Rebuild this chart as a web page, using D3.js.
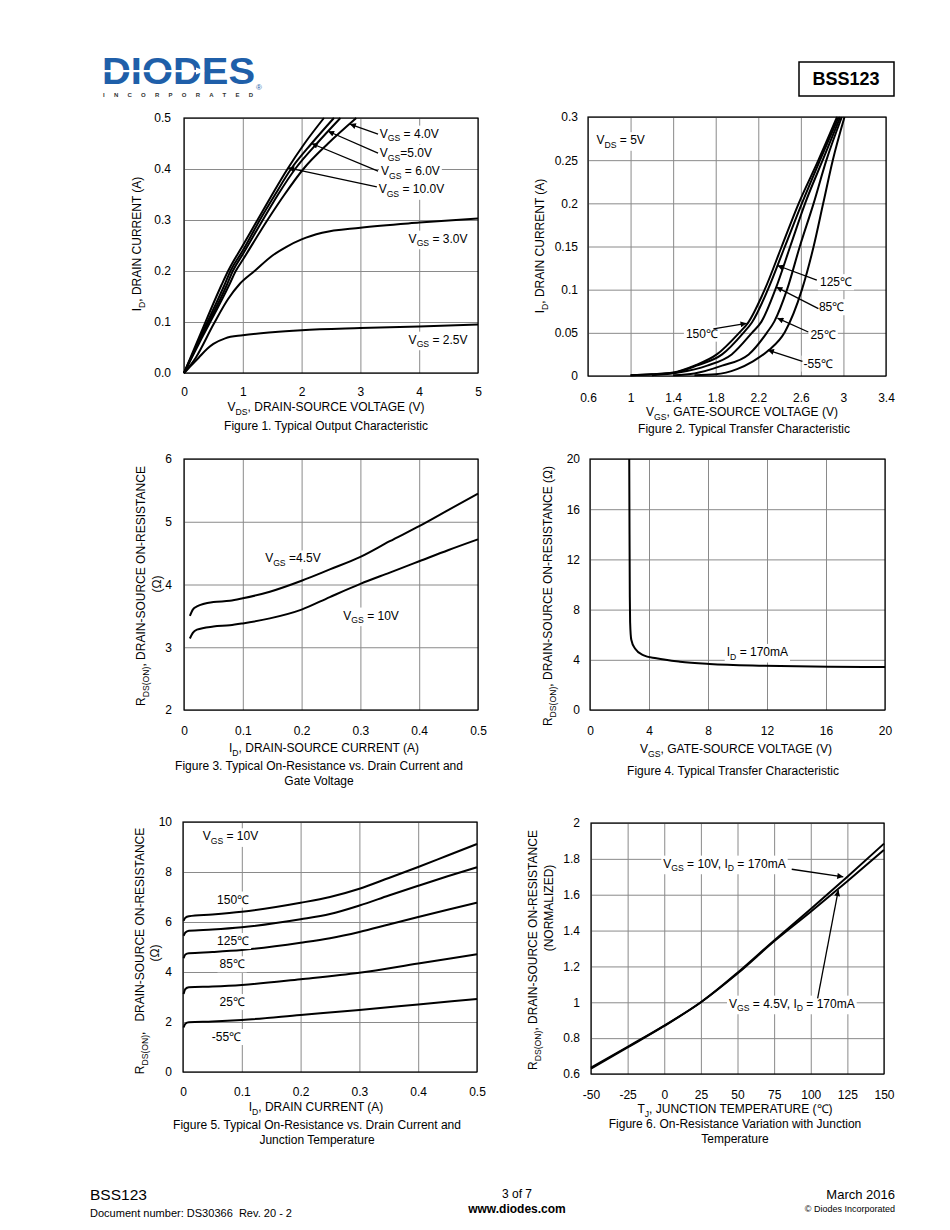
<!DOCTYPE html>
<html>
<head>
<meta charset="utf-8">
<script src="https://cdn.jsdelivr.net/npm/d3@7"></script>
<style>
  body { margin: 0; background: #fff; }
  svg { display: block; font-family: "Liberation Sans", Arial, Helvetica, sans-serif; }
</style>
</head>
<body>
<script>
// ---- Figure 1: output characteristic, [VDS, ID] ----
var f1Vgs10 = [[0,0],[0.1,0.027],[0.3,0.082],[0.64,0.173],[0.75,0.2],[1,0.25],[1.25,0.3],[1.5,0.35],[1.76,0.4],[2.05,0.45],[2.38,0.5]];
var f1Vgs6  = [[0,0],[0.1,0.025],[0.3,0.076],[0.69,0.173],[0.79,0.2],[1,0.24],[1.29,0.3],[1.55,0.35],[1.82,0.4],[2.17,0.45],[2.55,0.5]];
var f1Vgs5  = [[0,0],[0.1,0.024],[0.3,0.072],[0.73,0.173],[0.83,0.2],[1,0.233],[1.34,0.3],[1.6,0.35],[1.89,0.4],[2.26,0.45],[2.66,0.5]];
var f1Vgs4  = [[0,0],[0.1,0.023],[0.3,0.068],[0.77,0.173],[0.88,0.2],[1,0.222],[1.42,0.3],[1.71,0.35],[2.03,0.4],[2.45,0.45],[2.93,0.5]];
var f1Vgs3  = [[0,0],[0.2,0.03],[0.5,0.095],[0.75,0.145],[0.95,0.175],[1.2,0.2],[1.5,0.23],[1.75,0.248],[2,0.262],[2.35,0.275],[3,0.285],[4,0.295],[5,0.303]];
var f1Vgs25 = [[0,0],[0.1,0.012],[0.25,0.03],[0.4,0.048],[0.5,0.057],[0.7,0.068],[1,0.074],[1.5,0.08],[2,0.084],[3,0.088],[4,0.091],[5,0.095]];
var f1XTicks = [0, 1, 2, 3, 4, 5];
var f1YTicks = [0, 0.1, 0.2, 0.3, 0.4, 0.5];
var f1Notes = [
  { text: "V_{GS} = 4.0V",  at: [3.33, 0.470], from: [3.30, 0.4686], to: [2.82, 0.488] },
  { text: "V_{GS}=5.0V",    at: [3.33, 0.432], from: [3.30, 0.431],  to: [2.45, 0.474] },
  { text: "V_{GS} = 6.0V",  at: [3.35, 0.396], from: [3.30, 0.396],  to: [2.17, 0.45] },
  { text: "V_{GS} = 10.0V", at: [3.31, 0.361], from: [3.28, 0.365],  to: [1.77, 0.402] },
  { text: "V_{GS} = 3.0V",  at: [3.82, 0.264] },
  { text: "V_{GS} = 2.5V",  at: [3.82, 0.066] }
];

// ---- Figure 2: transfer characteristic, [VGS, ID] ----
var f2T150 = [[1,0.001],[1.2,0.002],[1.4,0.004],[1.6,0.012],[1.81,0.025],[2.02,0.05],[2.1,0.061],[2.26,0.1],[2.42,0.15],[2.58,0.2],[2.765,0.25],[2.94,0.3]];
var f2T125 = [[1,0.001],[1.2,0.002],[1.4,0.0035],[1.62,0.012],[1.86,0.025],[2.06,0.05],[2.14,0.062],[2.29,0.1],[2.45,0.15],[2.61,0.2],[2.78,0.25],[2.955,0.3]];
var f2T85  = [[1.2,0.001],[1.45,0.004],[1.72,0.012],[1.95,0.025],[2.14,0.05],[2.23,0.063],[2.36,0.1],[2.5,0.15],[2.64,0.2],[2.805,0.25],[2.97,0.3]];
var f2T25  = [[1.4,0.001],[1.6,0.003],[1.86,0.012],[2.11,0.025],[2.28,0.05],[2.35,0.063],[2.47,0.1],[2.59,0.15],[2.72,0.2],[2.84,0.25],[2.985,0.3]];
var f2Tm55 = [[1.6,0.001],[1.8,0.002],[2,0.008],[2.15,0.017],[2.3,0.03],[2.45,0.051],[2.61,0.1],[2.72,0.15],[2.81,0.2],[2.9,0.25],[3.01,0.3]];
var f2XTicks = [0.6, 1, 1.4, 1.8, 2.2, 2.6, 3, 3.4];
var f2YTicks = [0, 0.05, 0.1, 0.15, 0.2, 0.25, 0.3];
var f2Notes = [
  { text: "V_{DS} = 5V", at: [0.68, 0.2735] },
  { text: "125\u2103", at: [2.78, 0.109],  from: [2.75, 0.111],  to: [2.38, 0.128] },
  { text: "85\u2103",  at: [2.77, 0.080],  from: [2.765, 0.078], to: [2.37, 0.103] },
  { text: "25\u2103",  at: [2.69, 0.048],  from: [2.67, 0.051],  to: [2.38, 0.067] },
  { text: "-55\u2103", at: [2.625, 0.0147], from: [2.615, 0.0170], to: [2.29, 0.030] },
  { text: "150\u2103", at: [1.52, 0.0494], from: [1.778, 0.0545], to: [2.09, 0.061] }
];

// ---- Figure 3: RDS(on) vs ID, [ID, R] ----
var f3Vgs45 = [[0.01,3.5],[0.015,3.6],[0.022,3.65],[0.05,3.72],[0.078,3.74],[0.1,3.78],[0.146,3.885],[0.2,4.06],[0.248,4.24],[0.3,4.44],[0.35,4.69],[0.4,4.93],[0.45,5.19],[0.5,5.45]];
var f3Vgs10 = [[0.01,3.14],[0.015,3.23],[0.022,3.28],[0.05,3.33],[0.078,3.35],[0.1,3.38],[0.146,3.46],[0.2,3.6],[0.248,3.8],[0.3,4.01],[0.35,4.19],[0.4,4.37],[0.45,4.55],[0.5,4.72]];
var f3XTicks = [0, 0.1, 0.2, 0.3, 0.4, 0.5];
var f3YTicks = [2, 3, 4, 5, 6];
var f3Notes = [
  { text: "V_{GS} =4.5V", at: [0.138, 4.42] },
  { text: "V_{GS} = 10V", at: [0.271, 3.51] }
];

// ---- Figure 4: RDS(on) vs VGS, [VGS, R] ----
var f4Id170 = [[2.66,20],[2.68,14],[2.7,9],[2.72,7],[2.8,5.6],[3.05,4.9],[3.6,4.38],[4.5,4.12],[6.1,3.85],[8.1,3.67],[11.8,3.53],[16.3,3.45],[20,3.42]];
var f4XTicks = [0, 4, 8, 12, 16, 20];
var f4YTicks = [0, 4, 8, 12, 16, 20];
var f4Notes = [{ text: "I_{D} = 170mA", at: [9.27, 4.65] }];

// ---- Figure 5: RDS(on) vs ID and temperature, [ID, R] ----
var f5T150 = [[0.001,6.05],[0.004,6.17],[0.01,6.23],[0.05,6.3],[0.1,6.41],[0.2,6.77],[0.25,7.0],[0.3,7.33],[0.35,7.76],[0.4,8.2],[0.45,8.66],[0.5,9.12]];
var f5T125 = [[0.001,5.45],[0.004,5.58],[0.01,5.65],[0.05,5.7],[0.1,5.79],[0.2,6.11],[0.25,6.32],[0.3,6.66],[0.35,7.06],[0.4,7.45],[0.45,7.83],[0.5,8.19]];
var f5T85  = [[0.001,4.55],[0.004,4.7],[0.01,4.75],[0.05,4.8],[0.1,4.88],[0.2,5.17],[0.25,5.35],[0.3,5.6],[0.35,5.9],[0.4,6.2],[0.45,6.49],[0.5,6.77]];
var f5T25  = [[0.001,3.12],[0.004,3.32],[0.01,3.39],[0.05,3.42],[0.1,3.48],[0.2,3.71],[0.3,3.97],[0.4,4.34],[0.5,4.71]];
var f5Tm55 = [[0.001,1.78],[0.004,1.93],[0.01,1.99],[0.05,2.02],[0.1,2.08],[0.2,2.28],[0.3,2.48],[0.4,2.7],[0.5,2.92]];
var f5XTicks = [0, 0.1, 0.2, 0.3, 0.4, 0.5];
var f5YTicks = [0, 2, 4, 6, 8, 10];
var f5Notes = [
  { text: "V_{GS} = 10V", at: [0.0335, 9.44] },
  { text: "150\u2103", at: [0.058, 6.91] },
  { text: "125\u2103", at: [0.058, 5.25] },
  { text: "85\u2103",  at: [0.062, 4.32] },
  { text: "25\u2103",  at: [0.062, 2.81] },
  { text: "-55\u2103", at: [0.049, 1.41] }
];

// ---- Figure 6: normalized RDS(on) vs TJ ----
var f6Temp   = [-50, -25, 0, 25, 50, 75, 100, 125, 150];
var f6Vgs10  = [0.635, 0.752, 0.87, 1.0, 1.165, 1.345, 1.52, 1.70, 1.885];
var f6Vgs45  = [0.63, 0.748, 0.868, 1.0, 1.16, 1.34, 1.505, 1.675, 1.85];
var f6XTicks = [-50, -25, 0, 25, 50, 75, 100, 125, 150];
var f6YTicks = [0.6, 0.8, 1, 1.2, 1.4, 1.6, 1.8, 2];
var f6Notes = [
  { text: "V_{GS} = 10V, I_{D} = 170mA",  at: [-0.65, 1.775], from: [87, 1.742],   to: [122.2, 1.70] },
  { text: "V_{GS} = 4.5V, I_{D} = 170mA", at: [44.2, 0.994],  from: [104.7, 1.022], to: [118.8, 1.626] }
];

var svg = d3.select('body').append('svg')
  .attr('width', 950)
  .attr('height', 1230);

svg.append('defs').append('marker')
  .attr('id', 'ah')
  .attr('viewBox', '0 0 10 10')
  .attr('refX', 10).attr('refY', 5)
  .attr('markerWidth', 8).attr('markerHeight', 6)
  .attr('markerUnits', 'userSpaceOnUse')
  .attr('orient', 'auto')
  .append('path').attr('d', 'M0,0 L10,5 L0,10 Z').attr('fill', '#000');

// text with "_{sub}" parts turned into subscripts
function richText(parent, str, x, y, size, anchor) {
  var t = parent.append('text')
    .attr('x', x).attr('y', y)
    .attr('font-size', size)
    .attr('text-anchor', anchor || 'start')
    .style('white-space', 'pre');
  var parts = str.split(/(_\{[^}]*\})/).filter(function (s) { return s.length; });
  var shifted = false;
  parts.forEach(function (p) {
    if (p.indexOf('_{') === 0) {
      t.append('tspan').attr('font-size', size * 0.72).attr('dy', size * 0.3).text(p.slice(2, -1));
      shifted = true;
    } else {
      var s = t.append('tspan').text(p);
      if (shifted) { s.attr('dy', -size * 0.3); shifted = false; }
    }
  });
  return t;
}

function drawChart(c) {
  var g = svg.append('g');
  var x0 = c.box[0], y0 = c.box[1], x1 = c.box[2], y1 = c.box[3];
  var x = d3.scaleLinear().domain(c.xDomain).range([x0, x1]);
  var y = d3.scaleLinear().domain(c.yDomain).range([y1, y0]);

  // grid lines + tick labels
  var gx = g.append('g').attr('transform', 'translate(0,' + y1 + ')')
    .call(d3.axisBottom(x).tickValues(c.xTicks).tickFormat(c.xFmt || String)
      .tickSize(-(y1 - y0)).tickPadding(c.xPad));
  var gy = g.append('g').attr('transform', 'translate(' + x0 + ',0)')
    .call(d3.axisLeft(y).tickValues(c.yTicks).tickFormat(c.yFmt || String)
      .tickSize(-(x1 - x0)).tickPadding(c.yPad));
  [gx, gy].forEach(function (a) {
    a.attr('font-family', null).attr('font-size', 12);
    a.select('.domain').remove();
    a.selectAll('.tick line').attr('stroke', '#8a8a8a');
    a.selectAll('.tick text').attr('fill', '#000');
  });

  var line = d3.line()
    .x(function (d) { return x(d[0]); })
    .y(function (d) { return y(d[1]); })
    .curve(d3.curveMonotoneX);

  g.append('g').selectAll('path')
    .data(c.series)
    .join('path')
    .attr('d', line)
    .attr('fill', 'none')
    .attr('stroke', '#000')
    .attr('stroke-width', 2)
    .attr('stroke-linejoin', 'round');

  // labels (white box behind, like the datasheet) and arrows
  (c.notes || []).forEach(function (n) {
    var t = richText(g, n.text, x(n.at[0]), y(n.at[1]) + 4.3, 12);
    var b = t.node().getBBox();
    g.insert('rect', function () { return t.node(); })
      .attr('x', b.x - 2).attr('y', b.y - 1)
      .attr('width', b.width + 4).attr('height', b.height + 2)
      .attr('fill', '#fff');
    if (n.from) {
      g.append('line')
        .attr('x1', x(n.from[0])).attr('y1', y(n.from[1]))
        .attr('x2', x(n.to[0])).attr('y2', y(n.to[1]))
        .attr('stroke', '#000').attr('stroke-width', 1.3)
        .attr('marker-end', 'url(#ah)');
    }
  });

  g.append('rect')
    .attr('x', x0).attr('y', y0)
    .attr('width', x1 - x0).attr('height', y1 - y0)
    .attr('fill', 'none').attr('stroke', '#000').attr('stroke-width', 1.2);

  // axis titles and captions
  c.titles.forEach(function (tt) {
    if (tt.rot) {
      var rg = g.append('g').attr('transform', 'translate(' + tt.cx + ',' + tt.cy + ') rotate(-90)');
      richText(rg, tt.t, 0, 4.3, 12, 'middle');
    } else {
      richText(g, tt.t, tt.cx, tt.cy + 4.3, 12, 'middle');
    }
  });
}

drawChart({
  box: [184, 118, 478, 373], xDomain: [0, 5], yDomain: [0, 0.5],
  xTicks: f1XTicks, yTicks: f1YTicks, yFmt: d3.format('.1f'), xPad: 14, yPad: 13,
  series: [f1Vgs10, f1Vgs6, f1Vgs5, f1Vgs4, f1Vgs3, f1Vgs25], notes: f1Notes,
  titles: [
    { t: 'I_{D}, DRAIN CURRENT (A)', cx: 137, cy: 244, rot: true },
    { t: 'V_{DS}, DRAIN-SOURCE VOLTAGE (V)', cx: 326, cy: 407 },
    { t: 'Figure 1. Typical Output Characteristic', cx: 326, cy: 426 }
  ]
});

drawChart({
  box: [588, 117, 886, 376], xDomain: [0.6, 3.4], yDomain: [0, 0.3],
  xTicks: f2XTicks, yTicks: f2YTicks, xPad: 17, yPad: 10,
  series: [f2T150, f2T125, f2T85, f2T25, f2Tm55], notes: f2Notes,
  titles: [
    { t: 'I_{D}, DRAIN CURRENT (A)', cx: 540, cy: 246, rot: true },
    { t: 'V_{GS}, GATE-SOURCE VOLTAGE (V)', cx: 742, cy: 412 },
    { t: 'Figure 2. Typical Transfer Characteristic', cx: 744, cy: 429 }
  ]
});

drawChart({
  box: [184, 459, 478, 710], xDomain: [0, 0.5], yDomain: [2, 6],
  xTicks: f3XTicks, yTicks: f3YTicks, xPad: 16, yPad: 12,
  series: [f3Vgs45, f3Vgs10], notes: f3Notes,
  titles: [
    { t: 'R_{DS(ON)}, DRAIN-SOURCE ON-RESISTANCE', cx: 141, cy: 586, rot: true },
    { t: '(\u03A9)', cx: 157, cy: 584, rot: true },
    { t: 'I_{D}, DRAIN-SOURCE CURRENT (A)', cx: 324, cy: 748 },
    { t: 'Figure 3. Typical On-Resistance vs. Drain Current and', cx: 319, cy: 766 },
    { t: 'Gate Voltage', cx: 319, cy: 781 }
  ]
});

drawChart({
  box: [590, 459, 885, 710], xDomain: [0, 20], yDomain: [0, 20],
  xTicks: f4XTicks, yTicks: f4YTicks, xPad: 16, yPad: 10,
  series: [f4Id170], notes: f4Notes,
  titles: [
    { t: 'R_{DS(ON)}, DRAIN-SOURCE ON-RESISTANCE (\u03A9)', cx: 548, cy: 596, rot: true },
    { t: 'V_{GS}, GATE-SOURCE VOLTAGE (V)', cx: 736, cy: 749 },
    { t: 'Figure 4. Typical Transfer Characteristic', cx: 733, cy: 771 }
  ]
});

drawChart({
  box: [183, 822, 477, 1072], xDomain: [0, 0.5], yDomain: [0, 10],
  xTicks: f5XTicks, yTicks: f5YTicks, xPad: 15, yPad: 11,
  series: [f5T150, f5T125, f5T85, f5T25, f5Tm55], notes: f5Notes,
  titles: [
    { t: 'R_{DS(ON)},   DRAIN-SOURCE ON-RESISTANCE', cx: 140, cy: 951, rot: true },
    { t: '(\u03A9)', cx: 155, cy: 953, rot: true },
    { t: 'I_{D}, DRAIN CURRENT (A)', cx: 316, cy: 1107 },
    { t: 'Figure 5. Typical On-Resistance vs. Drain Current and', cx: 317, cy: 1125 },
    { t: 'Junction Temperature', cx: 317, cy: 1140 }
  ]
});

drawChart({
  box: [591, 823, 884, 1074], xDomain: [-50, 150], yDomain: [0.6, 2],
  xTicks: f6XTicks, yTicks: f6YTicks, xPad: 16, yPad: 11,
  series: [d3.zip(f6Temp, f6Vgs10), d3.zip(f6Temp, f6Vgs45)], notes: f6Notes,
  titles: [
    { t: 'R_{DS(ON)}, DRAIN-SOURCE ON-RESISTANCE', cx: 533, cy: 950, rot: true },
    { t: '(NORMALIZED)', cx: 549, cy: 908, rot: true },
    { t: 'T_{J}, JUNCTION TEMPERATURE (\u2103)', cx: 735, cy: 1109 },
    { t: 'Figure 6. On-Resistance Variation with Junction', cx: 735, cy: 1124 },
    { t: 'Temperature', cx: 735, cy: 1139 }
  ]
});

// ---- page header ----
var logo = svg.append('g');
logo.append('text')
  .attr('x', 102).attr('y', 84)
  .attr('font-size', 36).attr('font-weight', 'bold')
  .attr('fill', '#1f5fa9')
  .attr('textLength', 153).attr('lengthAdjust', 'spacingAndGlyphs')
  .text('DIODES');
logo.append('rect').attr('x', 100).attr('y', 70).attr('width', 98).attr('height', 2.2).attr('fill', '#fff');
logo.append('path').attr('d', 'M196,67.6 L205,71.1 L196,74.6 Z').attr('fill', '#fff');
logo.append('text')
  .attr('x', 103).attr('y', 97)
  .attr('font-size', 6).attr('font-weight', 'bold').attr('fill', '#333')
  .attr('textLength', 150).attr('lengthAdjust', 'spacing')
  .text('INCORPORATED');
logo.append('text').attr('x', 256).attr('y', 90).attr('font-size', 8).attr('fill', '#1f5fa9').text('\u00AE');

svg.append('rect')
  .attr('x', 799).attr('y', 62).attr('width', 95).attr('height', 34)
  .attr('fill', 'none').attr('stroke', '#000').attr('stroke-width', 1.5);
svg.append('text')
  .attr('x', 846).attr('y', 85).attr('text-anchor', 'middle')
  .attr('font-size', 18).attr('font-weight', 'bold')
  .text('BSS123');

// ---- page footer ----
var foot = svg.append('g').attr('font-family', '"Liberation Sans Narrow", "Liberation Sans", Arial, sans-serif');
foot.append('text').attr('x', 90).attr('y', 1200).attr('font-size', 15)
  .attr('textLength', 57).attr('lengthAdjust', 'spacingAndGlyphs').text('BSS123');
foot.append('text').attr('x', 90).attr('y', 1217).attr('font-size', 10.5)
  .attr('textLength', 202).attr('lengthAdjust', 'spacingAndGlyphs').style('white-space', 'pre')
  .text('Document number: DS30366  Rev. 20 - 2');
foot.append('text').attr('x', 517).attr('y', 1198).attr('font-size', 12).attr('text-anchor', 'middle').text('3 of 7');
foot.append('text').attr('x', 517).attr('y', 1213).attr('font-size', 12).attr('font-weight', 'bold')
  .attr('text-anchor', 'middle').text('www.diodes.com');
foot.append('text').attr('x', 895).attr('y', 1199).attr('font-size', 13).attr('text-anchor', 'end').text('March 2016');
foot.append('text').attr('x', 895).attr('y', 1212).attr('font-size', 9).attr('text-anchor', 'end')
  .text('\u00A9 Diodes Incorporated');
</script>
</body>
</html>
